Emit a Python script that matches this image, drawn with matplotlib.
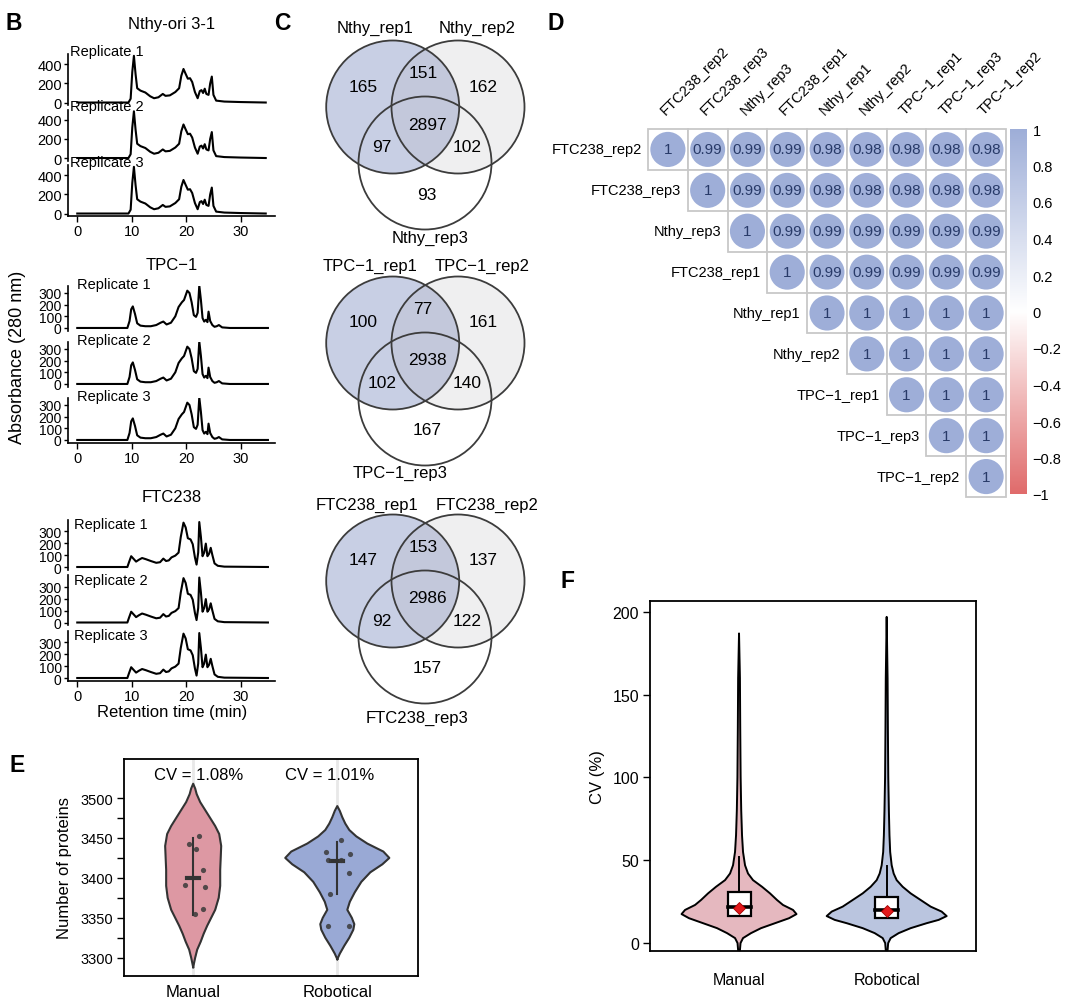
import numpy as np
import matplotlib
matplotlib.use('Agg')
import matplotlib.pyplot as plt
from matplotlib.patches import Circle, Rectangle
from matplotlib.colors import LinearSegmentedColormap, Normalize

plt.rcParams['font.family'] = ['Liberation Sans', 'DejaVu Sans']

# ---------------- data ----------------
# B: chromatograms (retention time in min, absorbance at 280 nm)
nthy_t = [0, 9.4, 9.8, 10.1, 10.4, 10.7, 11.0, 11.6, 12.5, 13.4, 14.1, 14.9, 15.7, 16.2, 17.0, 18.0,
          18.7, 19.1, 19.5, 19.9, 20.3, 20.7, 21.1, 21.6, 22.1, 22.5, 22.8, 23.1, 23.4, 23.7, 24.1,
          24.4, 24.7, 25.0, 25.5, 27.0, 30.0, 34.6]
nthy_a = [0, 0, 40, 320, 490, 300, 150, 125, 105, 65, 45, 55, 90, 70, 75, 110,
          150, 280, 352, 300, 250, 255, 215, 110, 45, 120, 130, 100, 145, 90, 80,
          200, 272, 80, 20, 10, 5, 0]
tpc_t = [0, 9.2, 9.6, 9.9, 10.2, 10.6, 11.0, 11.6, 12.5, 13.5, 14.5, 15.3, 15.8, 16.4, 17.2, 18.0,
         18.6, 19.2, 19.6, 20.2, 20.6, 21.0, 21.4, 21.8, 22.1, 22.4, 22.7, 23.0, 23.3, 23.6, 23.9,
         24.1, 24.4, 24.8, 25.2, 25.6, 26.0, 26.6, 28.0, 35.0]
tpc_a = [0, 0, 60, 160, 185, 120, 40, 20, 15, 15, 25, 45, 55, 30, 45, 100,
         180, 220, 240, 320, 300, 220, 110, 95, 130, 365, 240, 85, 55, 70, 50,
         140, 60, 25, 10, 15, 25, 5, 0, 0]
ftc_t = [0, 9.2, 9.5, 9.9, 10.3, 10.8, 11.3, 11.9, 12.6, 13.5, 14.5, 15.2, 15.8, 16.3, 16.8, 17.3,
         18.0, 18.6, 19.0, 19.5, 19.9, 20.3, 20.8, 21.2, 21.6, 21.9, 22.2, 22.4, 22.7, 23.0, 23.3,
         23.6, 23.9, 24.2, 24.5, 24.8, 25.2, 25.8, 27.0, 35.0]
ftc_a = [0, 0, 40, 90, 70, 45, 60, 75, 65, 50, 35, 40, 70, 50, 55, 80,
         95, 120, 250, 370, 330, 240, 230, 190, 80, 20, 120, 375, 250, 90, 120,
         195, 90, 110, 160, 100, 30, 10, 3, 0]
replicates = ['Replicate 1', 'Replicate 2', 'Replicate 3']

# C: venn counts (only1, 1&2, only2, all, 1&3, 2&3, only3)
venn_names = [['Nthy_rep1', 'Nthy_rep2', 'Nthy_rep3'],
              ['TPC\u22121_rep1', 'TPC\u22121_rep2', 'TPC\u22121_rep3'],
              ['FTC238_rep1', 'FTC238_rep2', 'FTC238_rep3']]
venn_counts = [[165, 151, 162, 2897, 97, 102, 93],
               [100, 77, 161, 2938, 102, 140, 167],
               [147, 153, 137, 2986, 92, 122, 157]]

# D: correlation (upper triangle rows)
d_labels = ['FTC238_rep2', 'FTC238_rep3', 'Nthy_rep3', 'FTC238_rep1', 'Nthy_rep1',
            'Nthy_rep2', 'TPC\u22121_rep1', 'TPC\u22121_rep3', 'TPC\u22121_rep2']
d_rows = [[1, 0.99, 0.99, 0.99, 0.98, 0.98, 0.98, 0.98, 0.98],
          [1, 0.99, 0.99, 0.98, 0.98, 0.98, 0.98, 0.98],
          [1, 0.99, 0.99, 0.99, 0.99, 0.99, 0.99],
          [1, 0.99, 0.99, 0.99, 0.99, 0.99],
          [1, 1, 1, 1, 1],
          [1, 1, 1, 1],
          [1, 1, 1],
          [1, 1],
          [1]]
cbar_ticks = [1, 0.8, 0.6, 0.4, 0.2, 0, -0.2, -0.4, -0.6, -0.8, -1]

# E: number of proteins
methods = ['Manual', 'Robotical']
manual_n = [3452, 3442, 3436, 3410, 3391, 3388, 3361, 3355]
robot_n = [3447, 3432, 3422, 3422, 3430, 3406, 3380, 3340, 3340]
e_mean = [3400, 3421]
e_lo = [3354, 3380]
e_hi = [3450, 3445]
cv_text = ['CV = 1.08%', 'CV = 1.01%']
# violin outlines (level, half width in px)
e_man_y = [3288, 3300, 3310, 3320, 3330, 3340, 3350, 3360, 3375, 3390, 3400, 3410, 3425, 3440,
           3455, 3465, 3475, 3485, 3495, 3505, 3512, 3518]
e_man_w = [0, 2, 4, 7.5, 10.5, 14, 18, 22, 25.5, 27, 27, 27, 27.5, 28, 26, 22, 17, 12, 7, 3.5, 2, 0]
e_rob_y = [3298, 3305, 3315, 3325, 3335, 3342, 3350, 3360, 3370, 3382, 3395, 3407, 3417, 3425,
           3433, 3443, 3452, 3460, 3468, 3476, 3484, 3490]
e_rob_w = [0, 2.5, 7, 12, 16, 17, 14.5, 10, 12.5, 17.5, 24, 33, 45, 52, 46, 30, 19, 12, 8, 5, 2.5, 0]

# F: CV distribution
f_man_y = [-5, 0, 3, 6, 9, 12, 15, 17.5, 20, 23, 26, 30, 34, 38, 42, 47, 55, 65, 80, 100, 130, 160, 187]
f_man_w = [0.8, 1.5, 4, 12, 22, 36, 50, 57.5, 54, 44, 38, 31, 23, 14, 9, 6, 4, 3, 2.2, 1.6, 1.2, 0.9, 0]
f_rob_y = [-5, 0, 3, 6, 9, 12, 14, 16.3, 19, 22, 26, 30, 34, 38, 42, 47, 55, 65, 80, 100, 130, 160, 197]
f_rob_w = [0.8, 1.5, 4, 12, 24, 40, 52, 60, 55, 44, 34, 24, 16, 10, 7, 5, 3.5, 2.8, 2.2, 1.6, 1.2, 0.9, 0]
f_q1 = [16.5, 15]
f_med = [22, 20]
f_q3 = [31, 27.6]
f_whi = [52, 46.7]
f_mean = [21.1, 19.6]

# ---------------- figure ----------------
W, H = 1080, 1003
fig = plt.figure(figsize=(W / 100, H / 100), dpi=100)


def px_axes(x0, y0, x1, y1):
    return fig.add_axes([x0 / W, 1 - y1 / H, (x1 - x0) / W, (y1 - y0) / H])


def ftext(x, y, s, **kw):
    return fig.text(x / W, 1 - y / H, s, **kw)


# panel letters
for letter, (lx, ly) in zip('BCDEF', [(14, 24), (282, 24), (556, 23), (17, 766), (568, 581)]):
    ftext(lx, ly, letter, fontsize=16.5, fontweight='bold', ha='center', va='center')

# ---- B ----
groups = [
    ('Nthy-ori 3-1', nthy_t, nthy_a, 55, 55.5, 51, (-26, 509), [0, 200, 400], 25, -3, 70),
    ('TPC\u22121', tpc_t, tpc_a, 287, 56, 45, (-26, 360), [0, 100, 200, 300], 265, -2, 77),
    ('FTC238', ftc_t, ftc_a, 521, 55.5, 50, (-25, 392), [0, 100, 200, 300], 498, 4, 74),
]
for title, tt, aa, top, step, hgt, ylim, yt, ty, loff, lx in groups:
    ftext(172, ty, title, fontsize=12, ha='center', va='center')
    for k in range(3):
        y0 = top + k * step
        ax = px_axes(68, y0, 275, y0 + hgt)
        ax.plot(tt, aa, color='black', lw=1.5)
        ax.set_xlim(-1.7, 36.3)
        ax.set_ylim(*ylim)
        ax.set_yticks(yt)
        ax.patch.set_alpha(0)
        for s in ['top', 'right']:
            ax.spines[s].set_visible(False)
        ax.spines['left'].set_linewidth(1.2)
        ax.tick_params(axis='y', length=3, width=1, labelsize=10.5, pad=1.5)
        if len(yt) > 3:
            for lab in ax.get_yticklabels():
                lab.set_fontsize(10)
        if k < 2:
            ax.spines['bottom'].set_visible(False)
            ax.set_xticks([])
        else:
            ax.spines['bottom'].set_linewidth(1.2)
            ax.set_xticks([0, 10, 20, 30])
            ax.tick_params(axis='x', length=4, width=1, labelsize=10.5, pad=2)
        ftext(lx, y0 + loff, replicates[k], fontsize=10.5, ha='left', va='center')
ftext(18, 357, 'Absorbance (280 nm)', fontsize=13, rotation=90, ha='center', va='center')
ftext(172, 712, 'Retention time (min)', fontsize=12, ha='center', va='center')

# ---- C ----
axc = px_axes(300, 0, 545, 740)
axc.set_xlim(300, 545)
axc.set_ylim(740, 0)
axc.axis('off')
centers = [(392.7, 108), (458, 108), (425, 164)]
radius = 66.5
region_pos = [(363, 87), (423, 74), (483, 87), (427, 125), (382, 148), (467, 148), (427, 195)]
name_pos = [[(375, 28), (477, 28), (430, 238)],
            [(370, 30), (482, 30), (400, 237)],
            [(367, 31), (487, 31), (417, 244)]]
fills = [('#4a60a8', 0.30), ('#b0b0b8', 0.20), ('white', 0.0)]
for v, dy in enumerate([0, 236, 474]):
    for (cx, cy), (fc, al) in zip(centers, fills):
        axc.add_patch(Circle((cx, cy + dy), radius, facecolor=fc, alpha=al, edgecolor='none'))
    for cx, cy in centers:
        axc.add_patch(Circle((cx, cy + dy), radius, facecolor='none', edgecolor='#3c3c3c', lw=1.3))
    for (px, py), n in zip(region_pos, venn_counts[v]):
        axc.text(px, py + dy, str(n), fontsize=12.5, ha='center', va='center')
    for (px, py), nm in zip(name_pos[v], venn_names[v]):
        axc.text(px, py + dy, nm, fontsize=12, ha='center', va='center')

# ---- D ----
cmap = LinearSegmentedColormap.from_list('corr', ['#e06b6b', '#ffffff', '#9eaed8'])
norm = Normalize(-1, 1)
axd = px_axes(648, 130, 1006, 498)
axd.set_xlim(0, 9)
axd.set_ylim(9, 0)
axd.axis('off')
for i, row in enumerate(d_rows):
    for k, v in enumerate(row):
        j = i + k
        axd.add_patch(Rectangle((j, i), 1, 1, facecolor='white', edgecolor='#c8c8c8', lw=1.3, clip_on=False))
        axd.scatter(j + 0.5, i + 0.5, s=640 * abs(v), color=cmap(norm(v)), edgecolors='none', zorder=3)
        lab = '1' if v == 1 else '%.2f' % v
        axd.text(j + 0.5, i + 0.5, lab, fontsize=11, color='#283a68', ha='center', va='center', zorder=4)
    axd.text(i - 0.16, i + 0.5, d_labels[i], fontsize=10.5, ha='right', va='center')
    axd.text(i + 0.5, -0.3, d_labels[i], fontsize=10.5, rotation=45, ha='left', va='bottom',
             rotation_mode='anchor')
axcb = px_axes(1010, 130, 1027, 495)
axcb.imshow(np.linspace(1, -1, 256)[:, None], aspect='auto', cmap=cmap, norm=norm, extent=(0, 1, -1, 1))
axcb.set_xticks([])
axcb.yaxis.tick_right()
axcb.set_yticks(cbar_ticks)
axcb.set_yticklabels([('%g' % t).replace('-', '\u2212') for t in cbar_ticks])
axcb.tick_params(axis='y', length=0, labelsize=10.5, pad=4)
for s in axcb.spines.values():
    s.set_visible(False)

# ---- E ----
axe = px_axes(124, 760, 418, 977)
axe.set_xlim(0.52, 2.56)
axe.set_ylim(3277, 3549)
axe.axvline(1, color='#e8e8e8', lw=2, zorder=0)
axe.axvline(2, color='#e8e8e8', lw=2, zorder=0)
e_cols = ['#dd98a3', '#99a9d5']
for p, yy, ww, col in [(1, e_man_y, e_man_w, e_cols[0]), (2, e_rob_y, e_rob_w, e_cols[1])]:
    hw = np.array(ww) / 144.0
    yy = np.array(yy)
    axe.fill_betweenx(yy, p - hw, p + hw, color=col, lw=0, zorder=1)
    axe.plot(np.r_[p - hw, (p + hw)[::-1]], np.r_[yy, yy[::-1]], color='#333333', lw=1.5, zorder=2)
manual_dx = [0.037, -0.028, 0.021, 0.065, -0.06, 0.085, 0.065, 0.016]
robot_dx = [0.028, -0.08, -0.064, 0.025, 0.09, 0.08, -0.05, -0.065, 0.08]
axe.scatter(1 + np.array(manual_dx), manual_n, s=14, color='#3a3a3a', alpha=0.85, zorder=4, lw=0)
axe.scatter(2 + np.array(robot_dx), robot_n, s=14, color='#3a3a3a', alpha=0.85, zorder=4, lw=0)
for p in range(2):
    axe.plot([p + 1, p + 1], [e_lo[p], e_hi[p]], color='#333333', lw=1.5, zorder=3)
    axe.plot([p + 1 - 0.042, p + 1 + 0.042], [e_mean[p], e_mean[p]], color='#333333', lw=3, zorder=3)
axe.text(1.035, 3529, cv_text[0], fontsize=12, ha='center', va='center')
axe.text(1.95, 3529, cv_text[1], fontsize=12, ha='center', va='center')
axe.set_yticks([3300, 3350, 3400, 3450, 3500])
axe.set_yticks(np.arange(3300, 3501, 25), minor=True)
axe.set_xticks([1, 2])
axe.set_xticklabels(methods, fontsize=12)
axe.tick_params(axis='x', length=0, pad=6)
axe.tick_params(axis='y', which='both', length=5, width=1, labelsize=10.5, pad=3)
for s in axe.spines.values():
    s.set_linewidth(1.3)
axe.set_ylabel('Number of proteins', fontsize=12, labelpad=6)

# ---- F ----
axf = px_axes(650, 602, 976, 952)
axf.set_xlim(0.397, 2.605)
axf.set_ylim(-4.8, 206.6)
f_cols = ['#e5b8bf', '#bac5df']
for p, yy, ww, col in [(1, f_man_y, f_man_w, f_cols[0]), (2, f_rob_y, f_rob_w, f_cols[1])]:
    hw = np.array(ww) / 147.7
    yy = np.array(yy)
    axf.fill_betweenx(yy, p - hw, p + hw, color=col, lw=0, zorder=1)
    axf.plot(np.r_[p - hw, (p + hw)[::-1]], np.r_[yy, yy[::-1]], color='black', lw=1.4, zorder=2)
for p in range(2):
    x = p + 1
    axf.plot([x, x], [f_q3[p], f_whi[p]], color='black', lw=1.4, zorder=3)
    axf.add_patch(Rectangle((x - 0.078, f_q1[p]), 0.156, f_q3[p] - f_q1[p], facecolor='white',
                            edgecolor='black', lw=1.6, zorder=4))
    axf.plot([x - 0.078, x + 0.078], [f_med[p], f_med[p]], color='black', lw=2.6, zorder=5)
    axf.plot(x, f_mean[p], marker='D', color='#e31a1c', markersize=6, markeredgecolor='#a00000',
             markeredgewidth=0.6, zorder=6)
axf.set_yticks([0, 50, 100, 150, 200])
axf.set_xticks([1, 2])
axf.set_xticklabels(methods, fontsize=11.5)
axf.tick_params(axis='x', length=0, pad=15)
axf.tick_params(axis='y', length=5, width=1, labelsize=11.5, pad=3)
for s in axf.spines.values():
    s.set_linewidth(1.3)
axf.set_ylabel('CV (%)', fontsize=12, labelpad=5)

fig.savefig('out.png', dpi=100)
